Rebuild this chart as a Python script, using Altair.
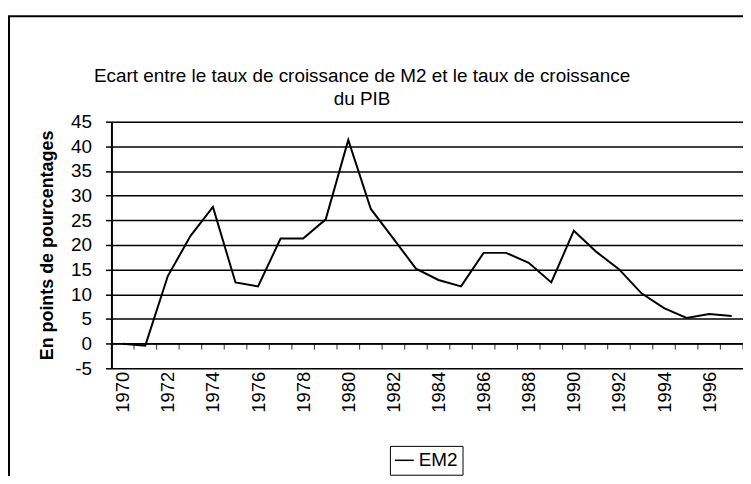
import altair as alt
import pandas as pd

years = list(range(1970, 1998))
em2 = [0.0, -0.4, 13.7, 21.8, 27.7, 12.4, 11.6, 21.3, 21.3, 25.2, 41.3, 27.3, 21.3, 15.2,
       12.9, 11.6, 18.4, 18.4, 16.4, 12.4, 22.9, 18.6, 15.1, 10.2, 7.2, 5.2, 6.0, 5.6]
series_name = "EM2"
label_years = list(range(1970, 1997, 2))
y_ticks = list(range(-5, 50, 5))
title_lines = ["Ecart entre le taux de croissance de M2 et le taux de croissance", "du PIB"]
y_title = "En points de pourcentages"

FONT = "Liberation Sans"
W, H = 635, 248

df = pd.DataFrame({"year": years, "value": em2, "series": series_name})
bounds = pd.DataFrame({"b": [y - 0.5 for y in years] + [years[-1] + 0.5]})
one = pd.DataFrame({"a": [0]})

xscale = alt.Scale(domain=[years[0] - 0.5, years[-1] + 0.5], nice=False, zero=False)
yscale = alt.Scale(domain=[-5, 45], nice=False)

xaxis = alt.Axis(values=label_years, tickCount=40, format="d", labelAngle=270, ticks=False,
                 domain=False, grid=False, labelPadding=3, labelFontSize=18.5, labelFont=FONT,
                 labelColor="black", labelOverlap=False, title=None)
yaxis = alt.Axis(values=y_ticks, tickCount=20, grid=True, gridColor="black", gridOpacity=1,
                 gridWidth=1.5, domainColor="black", domainWidth=2, tickColor="black",
                 tickSize=6, tickWidth=1.5, labelOverlap=False, labelExpr="'' + datum.value",
                 labelPadding=14, labelFontSize=19, labelFont=FONT, labelColor="black",
                 title=y_title, titleFont=FONT, titleFontSize=18, titleFontWeight="bold",
                 titleColor="black", titlePadding=14)

border = alt.Chart(one).mark_rect(
    fillOpacity=0, stroke="black", strokeWidth=2, clip=False
).encode(
    x=alt.value(-103), x2=alt.value(636), y=alt.value(-106), y2=alt.value(H + 120)
)

title = alt.Chart(one).mark_text(
    lineBreak="\n", lineHeight=23, fontSize=19, font=FONT, color="black",
    align="center", baseline="top", clip=False
).encode(
    x=alt.value(252), y=alt.value(-55), text=alt.value("\n".join(title_lines))
)

zero_rule = alt.Chart(one).mark_rule(color="black", strokeWidth=1.5).encode(
    y=alt.datum(0, scale=yscale)
)

ticks = alt.Chart(bounds).mark_tick(orient="vertical", size=6, thickness=1.2, color="black", yOffset=3).encode(
    x=alt.X("b:Q", scale=xscale, axis=xaxis),
    y=alt.datum(0, scale=yscale),
)

line = alt.Chart(df).mark_line(strokeWidth=2, clip=False).encode(
    x=alt.X("year:Q", scale=xscale, axis=xaxis),
    y=alt.Y("value:Q", scale=yscale, axis=yaxis),
    stroke=alt.Stroke("series:N", scale=alt.Scale(range=["black"]),
                      legend=alt.Legend(title=None, orient="none", legendX=280, legendY=326,
                                        symbolType="stroke", symbolSize=361, symbolStrokeWidth=1.5,
                                        labelFontSize=19, labelFont=FONT, labelColor="black",
                                        strokeColor="black", padding=4, labelOffset=4)),
)

chart = alt.layer(line, border, title, zero_rule, ticks).properties(
    width=W, height=H,
    autosize=alt.AutoSizeParams(type="none"),
    padding={"left": 104, "top": 113, "right": 0, "bottom": 107},
).configure_view(stroke="black", strokeWidth=2).configure(background="white")

chart.save("out.html", embed_options={"renderer": "svg", "actions": False})
